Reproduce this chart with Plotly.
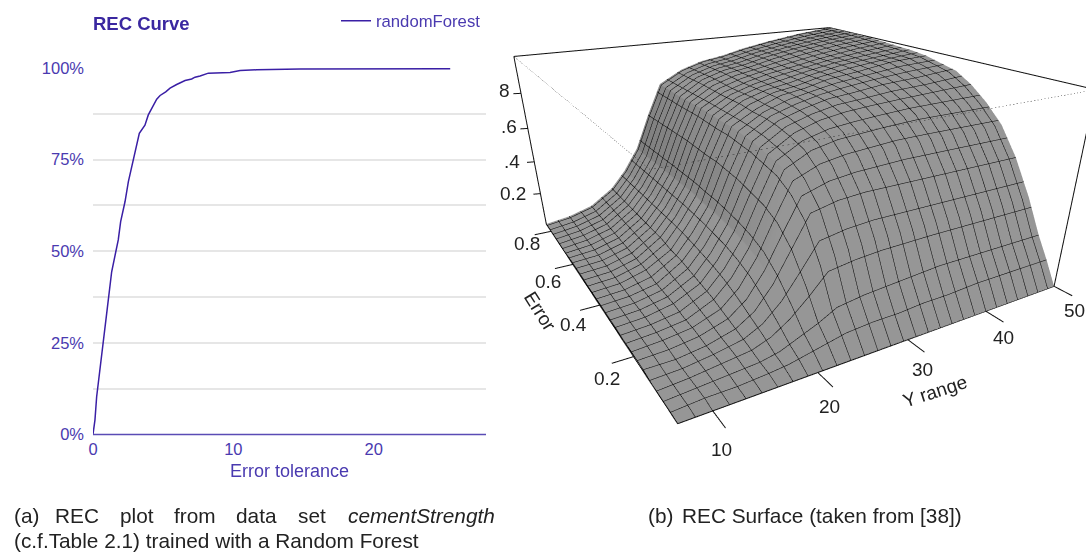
import numpy as np
import plotly.graph_objects as go

# ---- left panel data
rec_error = [0,.14,.26,.5,.74,1.02,1.33,1.64,1.8,1.97,2.28,2.52,2.92,3.3,3.7,3.94,4.54,4.78,5.18,5.49,5.96,6.56,7.03,7.27,7.63,8.22,9.76,10.48,11.67,14.75,25.45]
rec_value = [0,.04,.103,.185,.263,.345,.444,.503,.531,.581,.635,.69,.758,.822,.844,.872,.915,.925,.935,.945,.955,.966,.97,.975,.978,.986,.988,.993,.995,.997,.998]
# ---- right panel data
y_range = [7,10,13,16,18,20,22,24,27,30,33,36,40,45,50]
err_axis = [0,.03,.06,.1,.15,.2,.25,.3,.35,.4,.45,.5,.6,.7,.85]
surface_z = [
[0,.00,.00,.00,.01,.01,.01,.01,.01,.01,.01,.01,.01,.00,.00],
[0,.01,.01,.01,.01,.02,.02,.02,.02,.02,.02,.02,.02,.02,.02],
[0,.01,.02,.03,.03,.04,.04,.05,.05,.05,.06,.06,.06,.06,.06],
[0,.02,.03,.05,.07,.09,.11,.12,.13,.14,.14,.15,.15,.15,.15],
[0,.03,.05,.09,.13,.17,.20,.22,.23,.24,.25,.25,.25,.25,.25],
[0,.05,.09,.16,.24,.30,.33,.35,.36,.37,.37,.38,.38,.38,.38],
[0,.07,.13,.26,.39,.47,.51,.53,.55,.56,.57,.57,.58,.58,.58],
[0,.09,.18,.37,.54,.63,.68,.70,.72,.73,.74,.74,.75,.75,.76],
[0,.10,.20,.39,.57,.68,.75,.78,.80,.81,.81,.82,.82,.83,.83],
[0,.10,.21,.40,.58,.70,.78,.82,.84,.85,.86,.86,.86,.87,.87],
[0,.11,.22,.40,.58,.71,.79,.84,.87,.88,.88,.88,.89,.89,.89],
[0,.11,.23,.40,.58,.72,.80,.85,.88,.90,.91,.91,.91,.92,.92],
[0,.12,.23,.40,.58,.72,.81,.86,.90,.92,.93,.94,.94,.95,.95],
[0,.12,.23,.40,.58,.72,.81,.87,.91,.94,.96,.96,.97,.98,.98],
[0,.12,.23,.40,.58,.72,.81,.88,.93,.95,.97,.98,.99,1.0,1.0],
]
XR=[3,54]; YR=[-.1,.95]; ZR=[0,1]
X0,X1=7,50; Y0,Y1=0,.85; Z0,Z1=0,1
W,H=1086,554

# camera + viewport found by least squares so the box corners land where the picture has them
corners={(X0,Y0,Z0):((676,425),1),(X1,Y0,Z0):((1056,287),1),(X0,Y1,Z0):((544,222),1),(X0,Y0,Z1):((660,165),.3),(X1,Y0,Z1):((1085,89),.5),(X0,Y1,Z1):((524,57),.5),(X1,Y1,Z1):((831,27),1)}
TAN=np.tan(np.pi/8)
def clip(p):
    p=p.copy()
    p[13]=min(max(p[13],460),554)
    p[12]=min(max(p[12],p[13]/2),H-p[13]/2)
    p[11]=min(max(p[11],543),796)
    return p
def proj(p,c):
    eye=p[:3];cen=p[3:6];up=np.array([p[6],p[7],1.0]);a=p[8:11]
    n=np.array([((c[0]-XR[0])/(XR[1]-XR[0])-.5)*a[0],((c[1]-YR[0])/(YR[1]-YR[0])-.5)*a[1],((c[2]-ZR[0])/(ZR[1]-ZR[0])-.5)*a[2]])
    F=cen-eye;F=F/np.linalg.norm(F);R=np.cross(F,up);R=R/np.linalg.norm(R);U=np.cross(R,F)
    d=n-eye;z=d@F;f=p[13]/2/TAN
    return np.array([p[11]+f*(d@R)/z,p[12]-f*(d@U)/z])
def res(p):
    return np.concatenate([(proj(p,c)-np.array(v[0]))*v[1] for c,v in corners.items()])
p=np.array([-2.0838222276846006,-3.707979701622327,1.4723543629254192,-0.20237240660410877,-0.5595857168449377,-0.5035592658768309,0.0105047499147512,0.026896304937307942,3.0214751443068497,3.268957540692206,1.2562716129503924,793,277,554],float)
scale=np.array([1]*11+[100,100,100],float)
lam=1e-2;r=res(p)
for it in range(800):
    J=np.zeros((len(r),len(p)))
    for i in range(len(p)):
        q=p.copy();q[i]+=1e-5*scale[i];J[:,i]=(res(q)-r)/1e-5
    A=J.T@J
    s=np.linalg.solve(A+lam*np.eye(len(p)),-J.T@r)*scale
    c=clip(p+s);rn=res(c)
    if rn@rn<r@r: p=c;r=rn;lam=max(lam*.5,1e-7)
    else: lam*=3
P=p
eye=dict(x=P[0],y=P[1],z=P[2]);center=dict(x=P[3],y=P[4],z=P[5]);up=dict(x=P[6],y=P[7],z=1);asp=dict(x=P[8],y=P[9],z=P[10])
dom_x=[(2*P[11]-1086)/W,1.0]
dom_y=[1-(P[12]+P[13]/2)/H,1-(P[12]-P[13]/2)/H]

TXT="#4a3ab0"; CAP="#222222"; FONT="Liberation Sans"
fig=go.Figure()
fig.add_trace(go.Scatter(x=rec_error,y=rec_value,mode="lines",name="randomForest",line=dict(color="#3a1fa5",width=1.5),hoverinfo="skip"))
fig.add_trace(go.Surface(x=y_range,y=err_axis,z=np.array(surface_z).T,colorscale=[[0,"#969696"],[1,"#969696"]],showscale=False,showlegend=False,hoverinfo="skip",
    lighting=dict(ambient=.7,diffuse=.55,specular=0,fresnel=0,roughness=1),lightposition=dict(x=-1000,y=-3000,z=10000),
    contours=dict(x=dict(show=True,start=7,end=50,size=1.5,color="#000",width=2),y=dict(show=True,start=0,end=.85,size=.03,color="#000",width=2))))
def l3(xs,ys,zs,w=2,dash="solid",c="#111"):
    fig.add_trace(go.Scatter3d(x=xs,y=ys,z=zs,mode="lines",line=dict(color=c,width=w,dash=dash),showlegend=False,hoverinfo="skip"))
l3([X0,X1,X1,X1],[Y1,Y1,Y0,Y0],[Z1,Z1,Z1,Z0])
l3([X0,X0],[Y1,Y1],[Z1,Z0])
l3([X1,X0,X0],[Y0,Y0,Y1],[Z0,Z0,Z0])
l3([X0,X0,X1],[Y1,Y0,Y0],[Z1,Z1,Z1],w=1,dash="dot",c="#333")
ycols=[10,20,30,40]; erows=[.2,.4,.6,.8]; zrows=[.2,.4,.6,.8]
for t in ycols+[50]: l3([t,t],[Y0,Y0-.045],[0,0])
for t in erows: l3([X0,X0-2],[t,t],[0,0])
for t in zrows: l3([X0,X0-.8],[Y1,Y1+.005],[t,t])
ann=[]
def a3(x,y,z,t,xs,ys,ang=0):
    ann.append(dict(x=x,y=y,z=z,text=t,showarrow=False,xshift=xs,yshift=ys,textangle=ang,font=dict(family=FONT,size=19,color=CAP)))
for t,lab,xs,ys in [(10,"10",9,-39),(20,"20",12,-34),(30,"30",15,-30),(40,"40",18,-26),(50,"50",20,-24)]: a3(t,0,0,lab,xs,ys)
for t,lab,xs,ys in [(.2,"0.2",-26,-22),(.4,"0.4",-26,-19),(.6,"0.6",-25,-17),(.8,"0.8",-24,-12)]: a3(7,t,0,lab,xs,ys)
for t,lab,xs,ys in [(.8,"8",-16,3),(.6,".6",-18,2),(.4,".4",-22,0),(.2,"0.2",-27,0)]: a3(7,.85,t,lab,xs,ys)
a3(7,.4,0,"Error",-59,-6,58)
a3(30,0,0,"Y range",27,-52,-18)
fig.update_layout(width=W,height=H,autosize=False,paper_bgcolor="white",plot_bgcolor="white",
 margin=dict(l=0,r=0,t=0,b=0,autoexpand=False),
 title=dict(text="<b>REC Curve</b>",x=93/W,xanchor="left",y=1-24/H,yanchor="middle",font=dict(family=FONT,size=18.5,color="#3a27a0")),
 legend=dict(x=1-600/W,xanchor="right",y=1-21/H,yanchor="middle",bgcolor="rgba(0,0,0,0)",font=dict(family=FONT,size=16.7,color=TXT)),
 xaxis=dict(domain=[93/W,486/W],range=[0,28],tickvals=[0,10,20],ticks="",showgrid=False,zeroline=False,showline=False,ticklabelstandoff=3,tickfont=dict(family=FONT,size=16.5,color=TXT),
   title=dict(text="Error tolerance",font=dict(family=FONT,size=18,color=TXT),standoff=7)),
 yaxis=dict(domain=[1-434.5/H,1-68/H],range=[0,1],tickvals=[0,.25,.5,.75,1],ticktext=["0%","25%","50%","75%","100%"],ticklabelstandoff=8,minor=dict(tickvals=[.125,.375,.625,.875],showgrid=True,gridcolor="#e6e6e6",gridwidth=1.5),
   gridcolor="#e6e6e6",gridwidth=1.5,zeroline=False,showline=False,tickfont=dict(family=FONT,size=16.5,color=TXT)),
 shapes=[dict(type="line",xref="paper",yref="paper",x0=93/W,x1=486/W,y0=1-434.5/H,y1=1-434.5/H,line=dict(color="#5a4bb5",width=1.5))],
 scene=dict(domain=dict(x=dom_x,y=dom_y),bgcolor="white",aspectmode="manual",aspectratio=asp,camera=dict(eye=eye,center=center,up=up,projection=dict(type="perspective")),
   xaxis=dict(visible=False,range=XR),yaxis=dict(visible=False,range=YR),zaxis=dict(visible=False,range=ZR),annotations=ann),
 annotations=[dict(xref="paper",yref="paper",x=px/W,y=1-py/H,text=t,showarrow=False,xanchor="left",yanchor="middle",font=dict(family=FONT,size=20.8,color=CAP)) for px,py,t in
   [(12,515,"(a)"),(53,515,"REC"),(118,515,"plot"),(172,515,"from"),(234,515,"data"),(296,515,"set"),(346,515,"<i>cementStrength</i>"),(12,540,"(c.f.Table 2.1) trained with a Random Forest"),(646,515,"(b)"),(680,515,"REC Surface (taken from [38])")]])
fig.write_html("out.html",config=dict(displayModeBar=False),post_script="document.body.style.margin='0';")
